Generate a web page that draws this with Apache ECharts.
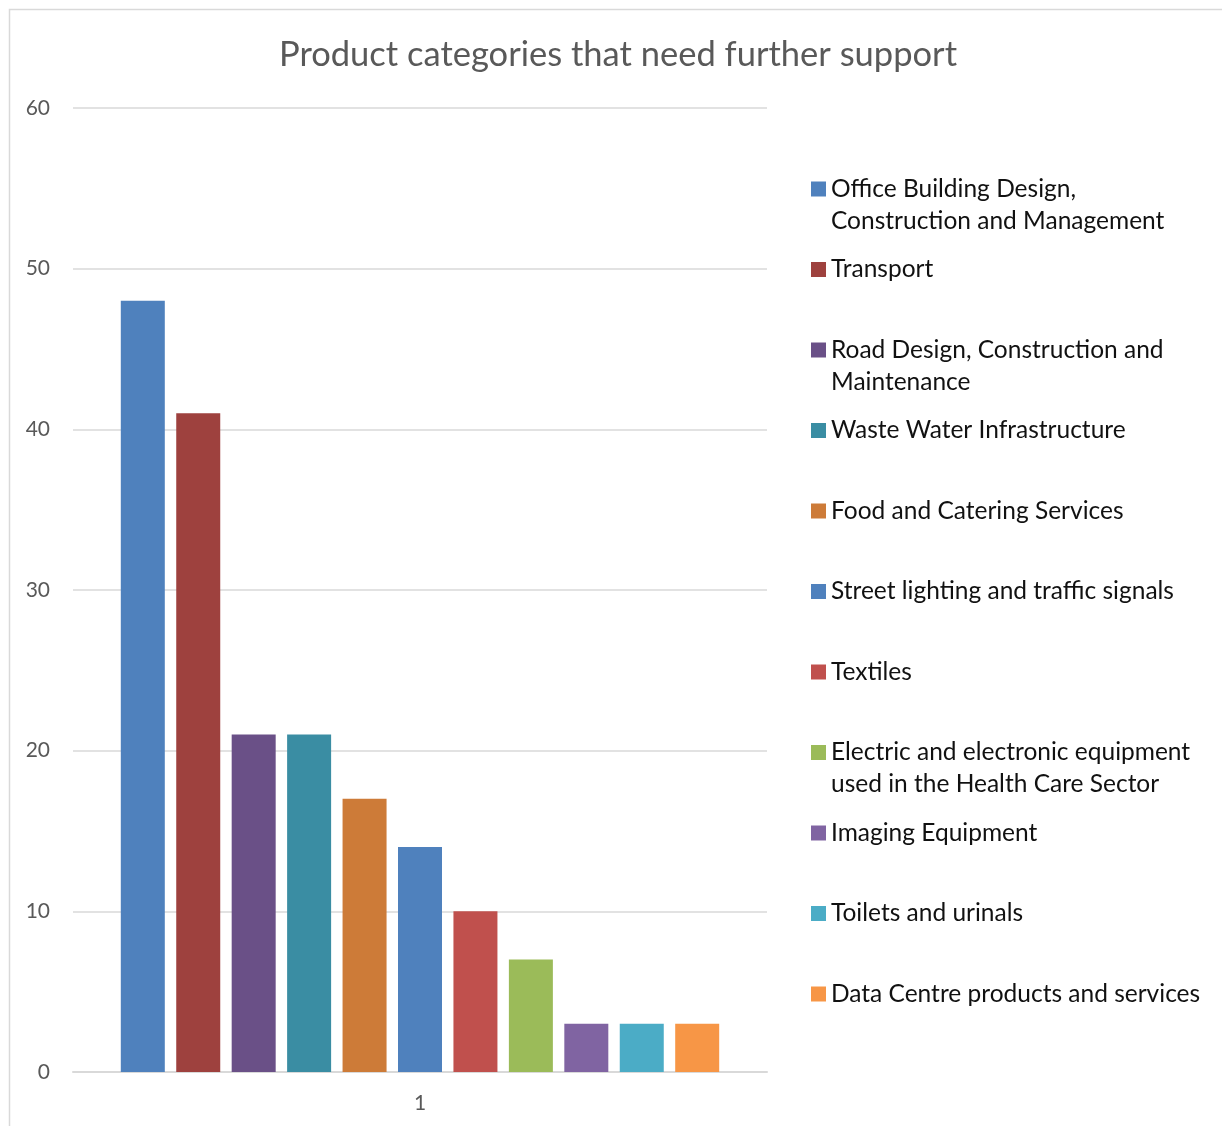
<!DOCTYPE html>
<html>
<head>
<meta charset="utf-8">
<script src="https://cdn.jsdelivr.net/npm/echarts@6/dist/echarts.min.js"></script>
<style>
html,body{margin:0;padding:0;background:#fff;}
#chart{width:1222px;height:1126px;}
</style>
</head>
<body>
<div id="chart"></div>
<script>
const chartTitle = 'Product categories that need further support';
const categories = ['1'];
const seriesNames = [
  'Office Building Design,\nConstruction and Management',
  'Transport',
  'Road Design, Construction and\nMaintenance',
  'Waste Water Infrastructure',
  'Food and Catering Services',
  'Street lighting and traffic signals',
  'Textiles',
  'Electric and electronic equipment\nused in the Health Care Sector',
  'Imaging Equipment',
  'Toilets and urinals',
  'Data Centre products and services'
];
const seriesValues = [48, 41, 21, 21, 17, 14, 10, 7, 3, 3, 3];
const seriesColors = ['#4F81BD', '#9E413E', '#6A5087', '#3A8DA3', '#CD7B38', '#4F81BD', '#C0504D', '#9BBB59', '#8064A2', '#4BACC6', '#F79646'];
const yTicks = [0, 10, 20, 30, 40, 50, 60];

const FONT = 'Lato, "Open Sans", sans-serif';
const legendTop0 = 189;   // center of first line of first legend item
const legendStep = 80.5;
const lineH = 32;

const legends = seriesNames.map((name, i) => {
  const twoLine = name.indexOf('\n') >= 0;
  const center = legendTop0 + i * legendStep;
  return {
    orient: 'vertical',
    left: 811,
    top: twoLine ? center - 1.5 * lineH : center - lineH / 2,
    padding: 0,
    itemWidth: 15,
    itemHeight: 15,
    icon: 'rect',
    selectedMode: false,
    data: [{ name: name }],
    formatter: function (n) { return n.indexOf('\n') >= 0 ? ' \n' + n : n; },
    textStyle: {
      fontFamily: FONT,
      fontSize: 24.5,
      color: '#111',
      lineHeight: lineH
    }
  };
});

const chart = echarts.init(document.getElementById('chart'), null, { renderer: 'canvas' });
chart.setOption({
  animation: false,
  backgroundColor: '#fff',
  title: {
    text: chartTitle,
    left: 613,
    textAlign: 'center',
    top: 32,
    textStyle: { fontFamily: FONT, fontWeight: 'normal', fontSize: 34.5, color: '#595959' }
  },
  graphic: [{
    type: 'rect',
    shape: { x: 9.5, y: 9.5, width: 1240, height: 1140 },
    style: { fill: 'none', stroke: '#D9D9D9', lineWidth: 1.5 },
    silent: true
  }],
  legend: legends,
  grid: { left: 73, right: 455, top: 108, bottom: 54, containLabel: false },
  xAxis: {
    type: 'category',
    data: categories,
    axisLine: { lineStyle: { color: '#D9D9D9', width: 2 } },
    axisTick: { show: false },
    axisLabel: { fontFamily: FONT, fontSize: 21, color: '#595959', margin: 21 }
  },
  yAxis: {
    type: 'value',
    min: yTicks[0],
    max: yTicks[yTicks.length - 1],
    interval: 10,
    axisLine: { show: false },
    axisTick: { show: false },
    splitLine: { lineStyle: { color: '#D9D9D9', width: 1.5 } },
    axisLabel: { fontFamily: FONT, fontSize: 21, color: '#595959', margin: 23 }
  },
  series: seriesNames.map((name, i) => ({
    name: name,
    type: 'bar',
    data: [seriesValues[i]],
    barWidth: 44,
    barGap: '26%',
    itemStyle: { color: seriesColors[i] }
  }))
});
</script>
</body>
</html>
